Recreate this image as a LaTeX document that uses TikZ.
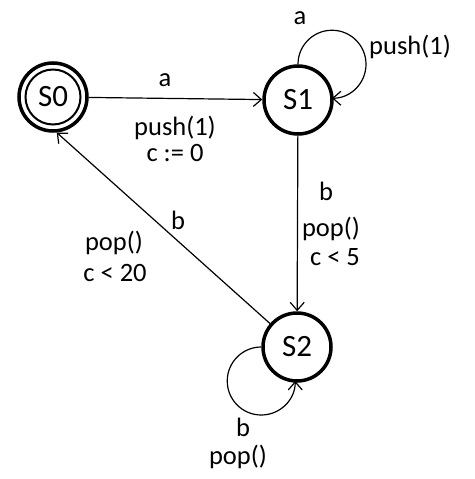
\documentclass[tikz,border=0pt]{standalone}
\usepackage{fontspec}
\setmainfont{Carlito}
\usetikzlibrary{arrows.meta}
\begin{document}
\begin{tikzpicture}[x=1pt,y=1pt,
  state/.style={circle,draw,line width=3.5pt,minimum size=68pt,inner sep=0pt,font=\fontsize{31}{31}\selectfont},
  edge/.style={draw,line width=1.2pt,-{Straight Barb[length=8pt,width=14pt,line width=1.2pt]}},
  lbl/.style={font=\fontsize{26.5}{26.5}\selectfont,inner sep=0pt}]
\useasboundingbox (0,0) rectangle (474,-479);
\node[state] (S0) at (53,-97) {S0};
\draw[line width=2pt] (S0.center) circle (27.5);
\node[state] (S1) at (298,-100) {S1};
\node[state] (S2) at (297,-347) {S2};

\draw[edge] (S0) -- (S1);
\draw[edge] (S1) -- (S2);
\draw[edge] (S2.139) -- (S0.-84);
\draw[edge] (S1.north) arc[start angle=180,end angle=-90,radius=34];
\draw[edge] (S2.west) arc[start angle=90,end angle=360,radius=34];

\node[lbl] (l1) at (165,-80) {a};
\node[lbl] (l2) at (175,-128) {push(1)};
\node[lbl] (l3) at (175,-153) {c := 0};
\node[lbl] (l4) at (300,-18) {a};
\node[lbl] (l5) at (410,-47) {push(1)};
\node[lbl] (l6) at (326,-191) {b};
\node[lbl] (l7) at (331,-229) {pop()};
\node[lbl] (l8) at (335,-257) {c < 5};
\node[lbl] (l9) at (178,-220) {b};
\node[lbl] (l10) at (114,-243) {pop()};
\node[lbl] (l11) at (115,-273) {c < 20};
\node[lbl] (l12) at (243,-427) {b};
\node[lbl] (l13) at (238,-457) {pop()};
\end{tikzpicture}
\end{document}
